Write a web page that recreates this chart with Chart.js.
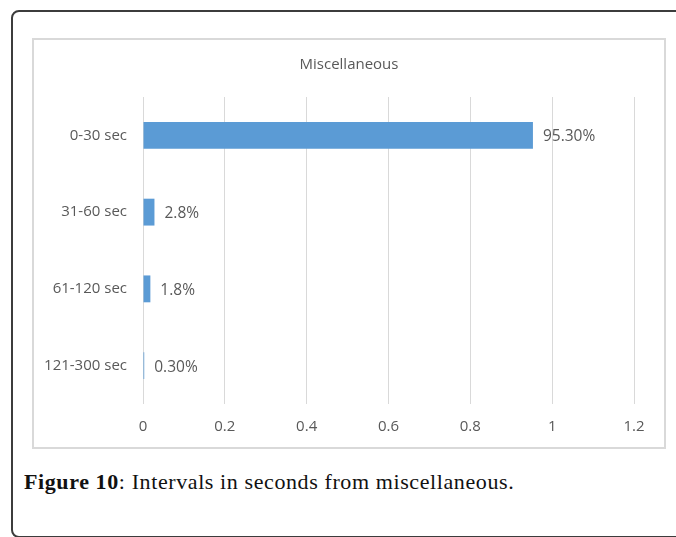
<!DOCTYPE html>
<html>
<head>
<meta charset="utf-8">
<script src="https://cdn.jsdelivr.net/npm/chart.js@4/dist/chart.umd.min.js"></script>
<style>
  html, body { margin: 0; padding: 0; background: #fff; width: 676px; height: 537px; overflow: hidden; }
  .frame {
    position: absolute; left: 11px; top: 10px; width: 720px; height: 524px;
    border: 2px solid #3c3c3c; border-radius: 8px;
  }
  .box {
    position: absolute; left: 32px; top: 38px; width: 630px; height: 407px;
    border: 2px solid #d9d9d9;
  }
  .box canvas { display: block; }
  .caption {
    position: absolute; left: 24px; top: 471px; line-height: 22px;
    font-family: "Liberation Serif", "DejaVu Serif", serif; font-size: 22px; color: #111;
    letter-spacing: 0.6px;
    white-space: nowrap;
  }
  .caption b { font-weight: bold; }
</style>
</head>
<body>
<div class="frame"></div>
<div class="box"><canvas id="c" width="630" height="407"></canvas></div>
<div class="caption"><b>Figure 10</b>: Intervals in seconds from miscellaneous.</div>
<script>
// Share of intervals per duration bucket
const categories = ['0-30 sec', '31-60 sec', '61-120 sec', '121-300 sec'];
const values = [0.953, 0.028, 0.018, 0.003];
const valueLabels = ['95.30%', '2.8%', '1.8%', '0.30%'];
const xTickLabels = ['0', '0.2', '0.4', '0.6', '0.8', '1', '1.2'];
const chartTitle = 'Miscellaneous';

const textColor = '#595959';
const fontFamily = '"Open Sans", "Liberation Sans", sans-serif';

// Writes each bar's value just past its end
const valueLabelPlugin = {
  id: 'valueLabels',
  afterDatasetsDraw(chart) {
    const ctx = chart.ctx;
    const meta = chart.getDatasetMeta(0);
    ctx.save();
    ctx.font = '15.5px ' + fontFamily;
    ctx.fillStyle = textColor;
    ctx.textAlign = 'left';
    ctx.textBaseline = 'middle';
    meta.data.forEach((bar, i) => {
      ctx.fillText(valueLabels[i], bar.x + 10, bar.y + 1.5);
    });
    ctx.restore();
  }
};

// Chart title centred over the whole canvas
const centredTitlePlugin = {
  id: 'centredTitle',
  afterDraw(chart) {
    const ctx = chart.ctx;
    ctx.save();
    ctx.font = '15px ' + fontFamily;
    ctx.fillStyle = textColor;
    ctx.textAlign = 'center';
    ctx.textBaseline = 'middle';
    ctx.fillText(chartTitle, chart.width / 2, 25);
    ctx.restore();
  }
};

new Chart(document.getElementById('c'), {
  type: 'bar',
  data: {
    labels: categories,
    datasets: [{
      data: values,
      backgroundColor: '#5b9bd5',
      borderWidth: 0,
      barPercentage: 0.35,
      categoryPercentage: 1
    }]
  },
  plugins: [valueLabelPlugin, centredTitlePlugin],
  options: {
    indexAxis: 'y',
    responsive: false,
    animation: false,
    layout: { padding: { left: 0, right: 30, top: 57, bottom: 0 } },
    plugins: {
      legend: { display: false },
      tooltip: { enabled: false },
      title: { display: false }
    },
    scales: {
      x: {
        min: 0, max: 1.2,
        ticks: {
          stepSize: 0.2,
          color: textColor,
          font: { family: fontFamily, size: 15 },
          padding: 14,
          callback: (v, i) => xTickLabels[i]
        },
        grid: { color: '#d9d9d9', lineWidth: 1, drawTicks: false },
        border: { display: false },
        afterFit(scale) { scale.height = 43; }
      },
      y: {
        ticks: {
          color: textColor,
          font: { family: fontFamily, size: 15 },
          padding: 16
        },
        grid: { display: false, drawTicks: false },
        border: { display: false },
        afterFit(scale) { scale.width = 109; }
      }
    }
  }
});
</script>
</body>
</html>
